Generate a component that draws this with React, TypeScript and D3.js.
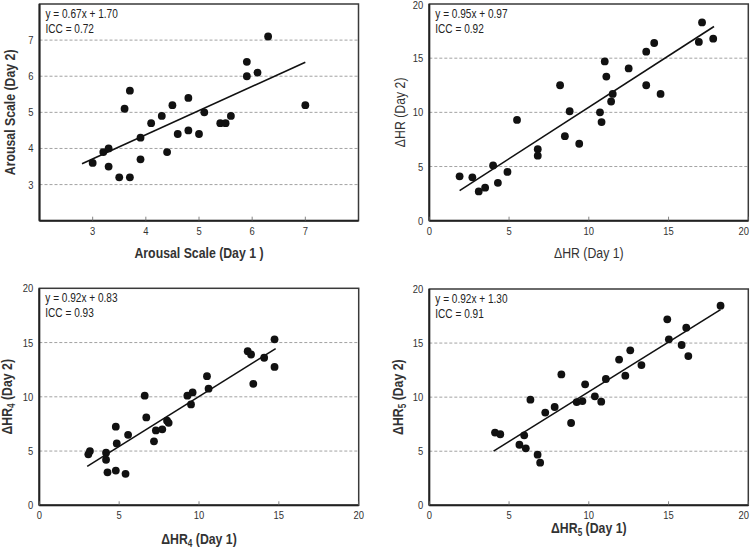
import React from "react";
import * as d3 from "d3";

// ---------- data ----------
const arousalDay1 = [3.0, 3.2, 3.3, 3.3, 3.5, 3.6, 3.7, 3.7, 3.9, 3.9, 4.1, 4.3, 4.4, 4.5, 4.6, 4.8, 4.8, 5.0, 5.1, 5.4, 5.5, 5.6, 5.9, 5.9, 6.1, 6.3, 7.0];
const arousalDay2 = [3.6, 3.9, 4.0, 3.5, 3.2, 5.1, 5.6, 3.2, 4.3, 3.7, 4.7, 4.9, 3.9, 5.2, 4.4, 5.4, 4.5, 4.4, 5.0, 4.7, 4.7, 4.9, 6.4, 6.0, 6.1, 7.1, 5.2];

const hrDay1 = [1.9, 2.7, 3.1, 3.5, 4.0, 4.3, 4.9, 5.5, 6.8, 6.8, 8.2, 8.5, 8.8, 9.4, 10.7, 10.8, 11.0, 11.1, 11.4, 11.5, 12.5, 13.6, 13.6, 14.1, 14.5, 16.9, 17.1, 17.8];
const hrDay2 = [4.1, 4.0, 2.7, 3.05, 5.1, 3.5, 4.5, 9.3, 6.6, 6.0, 12.5, 7.8, 10.1, 7.1, 10.0, 9.1, 14.7, 13.3, 11.0, 11.7, 14.05, 15.6, 12.5, 16.4, 11.7, 16.5, 18.3, 16.8];

const hr4Day1 = [3.07, 3.17, 4.18, 4.18, 4.27, 4.79, 4.85, 4.79, 5.4, 5.56, 6.6, 6.7, 7.18, 7.3, 7.7, 8.0, 8.1, 9.27, 9.5, 9.6, 10.5, 10.6, 13.05, 13.26, 13.4, 14.08, 14.73, 14.73];
const hr4Day2 = [4.7, 5.0, 4.85, 4.2, 3.04, 7.25, 5.7, 3.2, 2.9, 6.5, 10.1, 8.1, 5.9, 6.9, 7.0, 7.8, 7.6, 10.1, 9.3, 10.4, 11.9, 10.75, 14.2, 13.9, 11.2, 13.6, 15.3, 12.75];

const hr5Day1 = [4.12, 4.45, 5.65, 5.95, 6.05, 6.34, 6.79, 6.95, 7.27, 7.86, 8.28, 8.89, 9.24, 9.6, 9.77, 10.38, 10.78, 11.07, 11.9, 12.29, 12.6, 13.3, 14.92, 15.02, 15.82, 16.11, 16.24, 18.26];
const hr5Day2 = [6.72, 6.57, 5.6, 6.47, 5.27, 9.77, 4.68, 3.94, 8.57, 9.09, 12.1, 7.61, 9.54, 9.64, 11.19, 10.08, 9.58, 11.68, 13.47, 11.99, 14.33, 12.97, 17.2, 15.35, 14.82, 16.42, 13.8, 18.46];

const arousalTicks = [3, 4, 5, 6, 7];
const hrTicks = [0, 5, 10, 15, 20];
const hrGrid = [5, 10, 15];

const fits = [
  { slope: 0.67, intercept: 1.7, from: 2.8, to: 7.0, eq: "y = 0.67x + 1.70", icc: "ICC = 0.72" },
  { slope: 0.95, intercept: 0.97, from: 1.9, to: 17.85, eq: "y = 0.95x + 0.97", icc: "ICC = 0.92" },
  { slope: 0.92, intercept: 0.83, from: 3.0, to: 14.8, eq: "y = 0.92x + 0.83", icc: "ICC = 0.93" },
  { slope: 0.92, intercept: 1.3, from: 4.03, to: 18.26, eq: "y = 0.92x + 1.30", icc: "ICC = 0.91" },
];

const FONT = "'Liberation Sans', Arial, sans-serif";
const SQ = 0.82; // horizontal squeeze to mimic a narrow face

type Label = { main: string; sub?: string; rest: string };

type PanelProps = {
  box: { x0: number; x1: number; y0: number; y1: number };
  xDomain: [number, number];
  yDomain: [number, number];
  xTicks: number[];
  yTicks: number[];
  grid: number[];
  xs: number[];
  ys: number[];
  fit: typeof fits[0];
  xLabel: Label;
  yLabel: Label;
  bold: boolean;
  xLabelY: number;
  yLabelX: number;
};

function T({ x, y, anchor = "start", rotate = 0, size, weight = "normal", fill = "#333", children }: any) {
  return (
    <text
      transform={`translate(${x},${y}) rotate(${rotate}) scale(${SQ},1)`}
      textAnchor={anchor}
      fontSize={size}
      fontWeight={weight}
      fill={fill}
      fontFamily={FONT}
    >
      {children}
    </text>
  );
}

function LabelText({ l }: { l: Label }) {
  return (
    <>
      <tspan>{l.main}</tspan>
      {l.sub ? (
        <tspan fontSize="10" dy="3">{l.sub}</tspan>
      ) : null}
      <tspan dy={l.sub ? -3 : 0}>{l.rest}</tspan>
    </>
  );
}

function Panel(p: PanelProps) {
  const { box } = p;
  const x = d3.scaleLinear().domain(p.xDomain).range([box.x0, box.x1]);
  const y = d3.scaleLinear().domain(p.yDomain).range([box.y1, box.y0]);
  const line = d3
    .line<number>()
    .x((v) => x(v))
    .y((v) => y(p.fit.slope * v + p.fit.intercept));
  const cx = (box.x0 + box.x1) / 2;
  const cy = (box.y0 + box.y1) / 2;
  const w = p.bold ? "bold" : "normal";
  return (
    <g>
      {p.grid.map((t) => (
        <line key={"g" + t} x1={box.x0} x2={box.x1} y1={y(t)} y2={y(t)} stroke="#8a8a8a" strokeWidth={0.8} strokeDasharray="3,2" />
      ))}
      <rect x={box.x0} y={box.y0} width={box.x1 - box.x0} height={box.y1 - box.y0} fill="none" stroke="#3a3a3a" strokeWidth={1.5} />
      <line x1={box.x0} x2={box.x0} y1={box.y0} y2={box.y1} stroke="#222" strokeWidth={2} />
      <line x1={box.x0} x2={box.x1} y1={box.y1} y2={box.y1} stroke="#222" strokeWidth={2} />
      {p.xTicks.map((t) => {
        const px = x(t);
        const overflow = px + 6 > 750;
        return (
          <g key={"x" + t}>
            <line x1={px} x2={px} y1={box.y1} y2={box.y1 - 4} stroke="#666" strokeWidth={0.8} />
            <T x={overflow ? 749 : px} y={box.y1 + 14} anchor={overflow ? "end" : "middle"} size={11.5}>{t}</T>
          </g>
        );
      })}
      {p.yTicks.map((t) => {
        const py = y(t) + 4;
        return (
          <T key={"y" + t} x={box.x0 - 6} y={Math.max(py, 9)} anchor="end" size={11.5}>{t}</T>
        );
      })}
      <path d={line([p.fit.from, p.fit.to]) || ""} stroke="#111" strokeWidth={1.6} fill="none" />
      {p.xs.map((v, i) => (
        <circle key={"c" + i} cx={x(v)} cy={y(p.ys[i])} r={3.9} fill="#111" />
      ))}
      <T x={box.x0 + 6} y={box.y0 + 14} size={12.3} fill="#222">{p.fit.eq}</T>
      <T x={box.x0 + 6} y={box.y0 + 29} size={12.3} fill="#222">{p.fit.icc}</T>
      <T x={cx} y={p.xLabelY} anchor="middle" size={15} weight={w}>
        <LabelText l={p.xLabel} />
      </T>
      <T x={p.yLabelX} y={cy} rotate={-90} anchor="middle" size={15} weight={w}>
        <LabelText l={p.yLabel} />
      </T>
    </g>
  );
}

export default function App() {
  return (
    <svg width={750} height={549} style={{ position: "absolute", left: 0, top: 0, background: "#fff" }}>
      <rect width={750} height={549} fill="#fff" />
      <Panel
        box={{ x0: 39.5, x1: 358.5, y0: 4, y1: 220.7 }}
        xDomain={[2, 8]}
        yDomain={[2, 8]}
        xTicks={arousalTicks}
        yTicks={arousalTicks}
        grid={arousalTicks}
        xs={arousalDay1}
        ys={arousalDay2}
        fit={fits[0]}
        xLabel={{ main: "Arousal Scale (Day 1 )", rest: "" }}
        yLabel={{ main: "Arousal Scale (Day 2)", rest: "" }}
        bold={true}
        xLabelY={258}
        yLabelX={15}
      />
      <Panel
        box={{ x0: 429.3, x1: 748.3, y0: 4, y1: 220.7 }}
        xDomain={[0, 20]}
        yDomain={[0, 20]}
        xTicks={hrTicks}
        yTicks={hrTicks}
        grid={hrGrid}
        xs={hrDay1}
        ys={hrDay2}
        fit={fits[1]}
        xLabel={{ main: "ΔHR (Day 1)", rest: "" }}
        yLabel={{ main: "ΔHR (Day 2)", rest: "" }}
        bold={false}
        xLabelY={258}
        yLabelX={405}
      />
      <Panel
        box={{ x0: 39.3, x1: 358.7, y0: 288.3, y1: 505.3 }}
        xDomain={[0, 20]}
        yDomain={[0, 20]}
        xTicks={hrTicks}
        yTicks={hrTicks}
        grid={hrGrid}
        xs={hr4Day1}
        ys={hr4Day2}
        fit={fits[2]}
        xLabel={{ main: "ΔHR", sub: "4", rest: " (Day 1)" }}
        yLabel={{ main: "ΔHR", sub: "4", rest: " (Day 2)" }}
        bold={true}
        xLabelY={544}
        yLabelX={12}
      />
      <Panel
        box={{ x0: 429.3, x1: 748.3, y0: 289, y1: 505.3 }}
        xDomain={[0, 20]}
        yDomain={[0, 20]}
        xTicks={hrTicks}
        yTicks={hrTicks}
        grid={hrGrid}
        xs={hr5Day1}
        ys={hr5Day2}
        fit={fits[3]}
        xLabel={{ main: "ΔHR", sub: "5", rest: " (Day 1)" }}
        yLabel={{ main: "ΔHR", sub: "5", rest: " (Day 2)" }}
        bold={true}
        xLabelY={533}
        yLabelX={403}
      />
    </svg>
  );
}
